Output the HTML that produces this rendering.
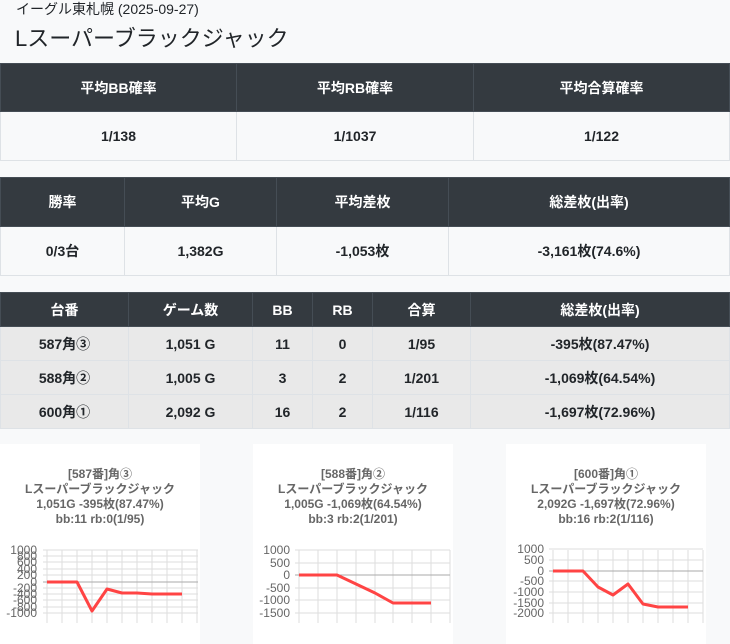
<!DOCTYPE html>
<html><head><meta charset="utf-8"><style>
body{margin:0;width:730px;height:644px;background:#f8f9fa;font-family:"Liberation Sans","Noto Sans CJK JP",sans-serif;color:#212529;overflow:hidden;position:relative}
.t1{position:absolute;left:16px;top:0;font-size:14px;line-height:18px}
.t2{position:absolute;left:15px;top:23px;font-size:22px;line-height:32px}
table{position:absolute;left:0;width:730px;border-collapse:collapse;table-layout:fixed;font-size:14px;font-weight:bold}
td,th{text-align:center;border:1px solid #dee2e6;padding:0}
th{background:#343a40;color:#fff;border-color:#454d55}
.g td{background:#e9e9e9}
</style></head><body>
<div class="t1">イーグル東札幌 (2025-09-27)</div>
<div class="t2">Lスーパーブラックジャック</div>
<table style="top:63px"><colgroup><col style="width:236px"><col style="width:237px"><col></colgroup>
<tr style="height:48px"><th>平均BB確率</th><th>平均RB確率</th><th>平均合算確率</th></tr>
<tr style="height:49px"><td>1/138</td><td>1/1037</td><td>1/122</td></tr></table>
<table style="top:177px"><colgroup><col style="width:124px"><col style="width:152px"><col style="width:172px"><col></colgroup>
<tr style="height:49px"><th>勝率</th><th>平均G</th><th>平均差枚</th><th>総差枚(出率)</th></tr>
<tr style="height:49px"><td>0/3台</td><td>1,382G</td><td>-1,053枚</td><td>-3,161枚(74.6%)</td></tr></table>
<table style="top:292px" class="g"><colgroup><col style="width:128px"><col style="width:124px"><col style="width:60px"><col style="width:60px"><col style="width:98px"><col></colgroup>
<tr style="height:34px"><th>台番</th><th>ゲーム数</th><th>BB</th><th>RB</th><th>合算</th><th>総差枚(出率)</th></tr>
<tr style="height:34px"><td>587角③</td><td>1,051 G</td><td>11</td><td>0</td><td>1/95</td><td>-395枚(87.47%)</td></tr>
<tr style="height:34px"><td>588角②</td><td>1,005 G</td><td>3</td><td>2</td><td>1/201</td><td>-1,069枚(64.54%)</td></tr>
<tr style="height:34px"><td>600角①</td><td>2,092 G</td><td>16</td><td>2</td><td>1/116</td><td>-1,697枚(72.96%)</td></tr></table>
<svg style="position:absolute;left:0;top:0" width="730" height="644" font-family="Liberation Sans, Noto Sans CJK JP, sans-serif">
<rect x="0" y="444" width="200" height="200" fill="#fff"/>
<rect x="253" y="444" width="200" height="200" fill="#fff"/>
<rect x="506" y="444" width="200" height="200" fill="#fff"/>
<g font-size="12" font-weight="bold" fill="#666" text-anchor="middle">
<text x="100" y="478">[587番]角③</text><text x="100" y="493">Lスーパーブラックジャック</text><text x="100" y="508">1,051G -395枚(87.47%)</text><text x="100" y="523">bb:11 rb:0(1/95)</text>
<text x="353" y="478">[588番]角②</text><text x="353" y="493">Lスーパーブラックジャック</text><text x="353" y="508">1,005G -1,069枚(64.54%)</text><text x="353" y="523">bb:3 rb:2(1/201)</text>
<text x="606" y="478">[600番]角①</text><text x="606" y="493">Lスーパーブラックジャック</text><text x="606" y="508">2,092G -1,697枚(72.96%)</text><text x="606" y="523">bb:16 rb:2(1/116)</text>
</g>
<g stroke="#ddd" stroke-width="1">
<path d="M47 550V623M62 550V623M77 550V623M92 550V623M107 550V623M122 550V623M137 550V623M152 550V623M167 550V623M182 550V623M197 550V623"/>
<path d="M43 550H198M43 556H198M43 562H198M43 569H198M43 575H198M43 588H198M43 594H198M43 600H198M43 607H198M43 613H198"/>
<path d="M299 550V623M318 550V623M337 550V623M356 550V623M375 550V623M393 550V623M412 550V623M431 550V623M450 550V623"/>
<path d="M295 550H450M295 563H450M295 588H450M295 600H450M295 613H450"/>
<path d="M553 550V623M568 550V623M583 550V623M598 550V623M613 550V623M628 550V623M643 550V623M658 550V623M673 550V623M688 550V623M703 550V623"/>
<path d="M549 549H703M549 560H703M549 581H703M549 592H703M549 603H703M549 613H703"/>
</g>
<g stroke="#aaa"><path d="M43 582H198M295 575H450M549 571H703"/></g>
<g font-size="12" fill="#666" text-anchor="end">
<text x="37" y="554">1000</text><text x="37" y="560">800</text><text x="37" y="566">600</text><text x="37" y="573">400</text><text x="37" y="579">200</text><text x="37" y="586">0</text><text x="37" y="592">-200</text><text x="37" y="598">-400</text><text x="37" y="604">-600</text><text x="37" y="611">-800</text><text x="37" y="617">-1000</text>
<text x="290" y="554">1000</text><text x="290" y="567">500</text><text x="290" y="579">0</text><text x="290" y="592">-500</text><text x="290" y="604">-1000</text><text x="290" y="617">-1500</text>
<text x="544" y="553">1000</text><text x="544" y="564">500</text><text x="544" y="575">0</text><text x="544" y="585">-500</text><text x="544" y="596">-1000</text><text x="544" y="607">-1500</text><text x="544" y="617">-2000</text>
</g>
<g fill="none" stroke="#ff4444" stroke-width="3" stroke-linejoin="round">
<polyline points="47,582 62,582 77,582 92,611 107,589 122,593 137,593 152,594 167,594 182,594"/>
<polyline points="299,575 318,575 337,575 356,584 375,593 393,603 412,603 431,603"/>
<polyline points="553,571 568,571 583,571 598,587 613,595 628,584 643,604 658,607 673,607 688,607"/>
</g>
</svg>
</body></html>
